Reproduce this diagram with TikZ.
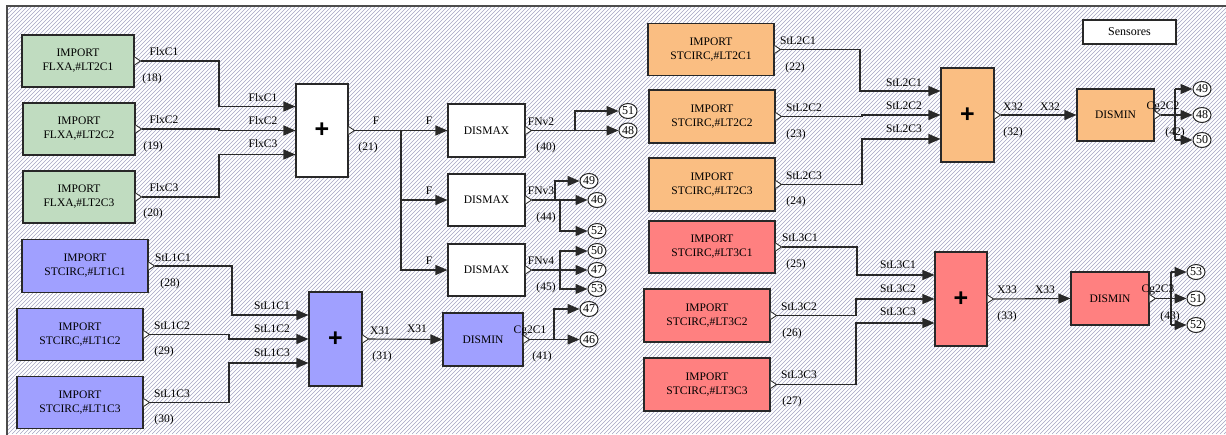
\documentclass[tikz,border=0pt]{standalone}
\usepackage{fontspec}
\setmainfont{Liberation Serif}
\setsansfont{Liberation Sans}
\usetikzlibrary{arrows.meta,shapes.geometric}
\definecolor{gfill}{RGB}{192,220,192}
\definecolor{bfill}{RGB}{160,160,255}
\definecolor{ofill}{RGB}{250,190,130}
\definecolor{rfill}{RGB}{255,128,128}
\definecolor{hatchc}{RGB}{165,165,195}
\definecolor{edge}{RGB}{40,40,40}
\newcommand\mkport[1]{%
  \filldraw[fill=white,draw=edge,line width=0.8pt] ([yshift=4pt]#1.east) -- ([xshift=6pt]#1.east) -- ([yshift=-4pt]#1.east);
  \coordinate (#1p) at ([xshift=6pt]#1.east);}
\newcommand\mkins[1]{%
  \coordinate (#1a) at ([yshift=24pt]#1.west);
  \coordinate (#1b) at (#1.west);
  \coordinate (#1c) at ([yshift=-24pt]#1.west);}
\tikzset{
  box/.style={draw=edge, line width=1.1pt, inner sep=0pt, align=center,
    font=\fontsize{11.5}{14}\selectfont},
  sumbox/.style={box, minimum width=53pt, minimum height=94pt,
    font=\sffamily\bfseries\fontsize{25}{25}\selectfont},
  impbox/.style={box, minimum width=126pt, minimum height=52pt},
  disbox/.style={box, minimum width=78pt, minimum height=53pt},
  wire/.style={draw=edge, line width=1.1pt},
  arr/.style={wire, -{Triangle[length=12pt,width=10pt]}},
  lbl/.style={inner sep=0pt, font=\fontsize{11.5}{13}\selectfont},
  circ/.style={draw=edge, ellipse, line width=1pt, fill=white, minimum width=18pt,
    minimum height=15pt, inner sep=0pt, font=\fontsize{12}{12}\selectfont},
  hatch/.style={draw=hatchc, line width=0.6pt}
}
\begin{document}
\begin{tikzpicture}[x=1pt,y=-1pt]
\fill[white] (0,0) rectangle (1226,434);
\useasboundingbox (0,0) rectangle (1226,434);
\begin{scope}
\clip (7,6) rectangle (1226,434);
\foreach \i in {-440,-436,...,1232} {\draw[hatch] (\i,434) -- (\i+434,0);}
\end{scope}
\draw[draw=black!70,line width=1.3pt] (7,440) -- (7,6) -- (1230,6);

% ---------- boxes ----------
\node[box, fill=gfill, minimum width=112pt, minimum height=52pt] (g1) at (78,61) {IMPORT\\FLXA,\#LT2C1};
\node[box, fill=gfill, minimum width=112pt, minimum height=52pt] (g2) at (79,129) {IMPORT\\FLXA,\#LT2C2};
\node[box, fill=gfill, minimum width=112pt, minimum height=52pt] (g3) at (79,197) {IMPORT\\FLXA,\#LT2C3};
\node[sumbox, fill=white, minimum width=52pt, minimum height=93pt] (s21) at (322,130.5) {+};
\node[disbox, fill=white, minimum width=77pt] (d40) at (486.5,130.5) {DISMAX};
\node[disbox, fill=white, minimum width=77pt, minimum height=52pt] (d44) at (486.5,200) {DISMAX};
\node[disbox, fill=white, minimum width=77pt, minimum height=52pt] (d45) at (486.5,270) {DISMAX};

\node[impbox, fill=bfill, minimum height=53pt] (b1) at (85,266) {IMPORT\\STCIRC,\#LT1C1};
\node[impbox, fill=bfill] (b2) at (80,334.5) {IMPORT\\STCIRC,\#LT1C2};
\node[impbox, fill=bfill] (b3) at (80,402.5) {IMPORT\\STCIRC,\#LT1C3};
\node[sumbox, fill=bfill] (s31) at (335.5,339) {+};
\node[disbox, fill=bfill, minimum width=80pt] (d41) at (483,339.5) {DISMIN};

\node[impbox, fill=ofill] (o1) at (711,49.5) {IMPORT\\STCIRC,\#LT2C1};
\node[impbox, fill=ofill, minimum height=53pt] (o2) at (712,116.5) {IMPORT\\STCIRC,\#LT2C2};
\node[impbox, fill=ofill, minimum height=53pt] (o3) at (712,184.5) {IMPORT\\STCIRC,\#LT2C3};
\node[sumbox, fill=ofill] (s32) at (967.5,115) {+};
\node[disbox, fill=ofill, minimum width=77pt, minimum height=52pt] (d42) at (1115.5,115) {DISMIN};

\node[impbox, fill=rfill] (r1) at (712,247) {IMPORT\\STCIRC,\#LT3C1};
\node[impbox, fill=rfill, minimum height=53pt] (r2) at (707,315.5) {IMPORT\\STCIRC,\#LT3C2};
\node[impbox, fill=rfill, minimum height=53pt] (r3) at (707,384.5) {IMPORT\\STCIRC,\#LT3C3};
\node[sumbox, fill=rfill, minimum width=52pt] (s33) at (961,299) {+};
\node[disbox, fill=rfill] (d43) at (1110,298.5) {DISMIN};

\node[box, fill=white, minimum width=93pt, minimum height=24pt, font=\fontsize{12}{13}\selectfont] (sens) at (1129.5,32) {Sensores};

% ---------- circles ----------
\node[circ] (c51a) at (628,111) {51};
\node[circ] (c48a) at (628,130.5) {48};
\node[circ] (c49a) at (589,181) {49};
\node[circ] (c46a) at (597,200) {46};
\node[circ] (c52a) at (597,231) {52};
\node[circ] (c50a) at (597,251) {50};
\node[circ] (c47a) at (597,270) {47};
\node[circ] (c53a) at (597,289) {53};
\node[circ] (c47b) at (589,309) {47};
\node[circ] (c46b) at (589,339.5) {46};
\node[circ] (c49b) at (1202,89) {49};
\node[circ] (c48b) at (1202,115) {48};
\node[circ] (c50b) at (1202,140) {50};
\node[circ] (c53b) at (1196,272) {53};
\node[circ] (c51b) at (1196,298.5) {51};
\node[circ] (c52b) at (1196,325) {52};

% ---------- ports and inputs ----------
\foreach \n in {g1,g2,g3,s21,d40,d44,d45,b1,b2,b3,s31,d41,o1,o2,o3,s32,d42,r1,r2,r3,s33,d43} {\mkport{\n}}
\foreach \n in {s21,s31,s32,s33} {\mkins{\n}}

% junctions
\coordinate (jF) at (401,130.5);
\coordinate (j40) at (575,130.5);
\coordinate (j44a) at (555,200);
\coordinate (j44b) at (560,200);
\coordinate (j45) at (560,270);
\coordinate (j41) at (554,339.5);
\coordinate (j42t) at (1175,89);
\coordinate (j42b) at (1175,140);
\coordinate (j43t) at (1171,272);
\coordinate (j43b) at (1171,325);

% ---------- connectors ----------
\draw[arr] (g1p) -| (219,106.5) -- (s21a);
\draw[arr] (g2p) -| (219,130.5) -- (s21b);
\draw[arr] (g3p) -| (219,154.5) -- (s21c);
\draw[arr] (s21p) -- (d40.west);
\draw[arr] (jF) |- (d44.west);
\draw[arr] (jF) |- (d45.west);
\draw[arr] (d40p) -- (c48a.west);
\draw[arr] (j40) |- (c51a.west);
\draw[arr] (d44p) -- (c46a.west);
\draw[arr] (j44a) |- (c49a.west);
\draw[arr] (j44b) |- (c52a.west);
\draw[arr] (d45p) -- (c47a.west);
\draw[arr] (j45) |- (c50a.west);
\draw[arr] (j45) |- (c53a.west);

\draw[arr] (b1p) -| (232,315) -- (s31a);
\draw[arr] (b2p) -| (229,339) -- (s31b);
\draw[arr] (b3p) -| (229,363) -- (s31c);
\draw[arr] (s31p) -- (d41.west);
\draw[arr] (d41p) -- (c46b.west);
\draw[arr] (j41) |- (c47b.west);

\draw[arr] (o1p) -| (860,91) -- (s32a);
\draw[arr] (o2p) -| (862,115) -- (s32b);
\draw[arr] (o3p) -| (862,139) -- (s32c);
\draw[arr] (s32p) -- (d42.west);
\draw[wire] (j42t) -- (j42b);
\draw[arr] (d42p) -- (c48b.west);
\draw[arr] (j42t) -- (c49b.west);
\draw[arr] (j42b) -- (c50b.west);

\draw[arr] (r1p) -| (857,275) -- (s33a);
\draw[arr] (r2p) -| (856,299) -- (s33b);
\draw[arr] (r3p) -| (856,323) -- (s33c);
\draw[arr] (s33p) -- (d43.west);
\draw[wire] (j43t) -- (j43b);
\draw[arr] (d43p) -- (c51b.west);
\draw[arr] (j43t) -- (c53b.west);
\draw[arr] (j43b) -- (c52b.west);

% ---------- labels ----------
\node[lbl] (l1) at (164,52) {FlxC1};
\node[lbl] (l2) at (152,79) {(18)};
\node[lbl] (l3) at (164,120) {FlxC2};
\node[lbl] (l4) at (153,147) {(19)};
\node[lbl] (l5) at (164,188) {FlxC3};
\node[lbl] (l6) at (153,214) {(20)};
\node[lbl] (l7) at (263,98) {FlxC1};
\node[lbl] (l8) at (263,121) {FlxC2};
\node[lbl] (l9) at (263,144) {FlxC3};
\node[lbl] (l10) at (376,121) {F};
\node[lbl] (l11) at (368,148) {(21)};
\node[lbl] (l12) at (429,121) {F};
\node[lbl] (l13) at (429,191) {F};
\node[lbl] (l14) at (429,261) {F};
\node[lbl] (l15) at (541,122) {FNv2};
\node[lbl] (l16) at (546,148) {(40)};
\node[lbl] (l17) at (541,191) {FNv3};
\node[lbl] (l18) at (546,218) {(44)};
\node[lbl] (l19) at (541,261) {FNv4};
\node[lbl] (l20) at (546,288) {(45)};

\node[lbl] (l21) at (173,258) {StL1C1};
\node[lbl] (l22) at (170,284) {(28)};
\node[lbl] (l23) at (172,326) {StL1C2};
\node[lbl] (l24) at (164,352) {(29)};
\node[lbl] (l25) at (172,394) {StL1C3};
\node[lbl] (l26) at (164,420) {(30)};
\node[lbl] (l27) at (272,306) {StL1C1};
\node[lbl] (l28) at (272,329) {StL1C2};
\node[lbl] (l29) at (272,353) {StL1C3};
\node[lbl] (l30) at (380,331) {X31};
\node[lbl] (l31) at (382,357) {(31)};
\node[lbl] (l32) at (417,329) {X31};
\node[lbl] (l33) at (530,331) {Cg2C1};
\node[lbl] (l34) at (542,357) {(41)};

\node[lbl] (l35) at (798,41) {StL2C1};
\node[lbl] (l36) at (795,68) {(22)};
\node[lbl] (l37) at (804,108) {StL2C2};
\node[lbl] (l38) at (796,135) {(23)};
\node[lbl] (l39) at (804,176) {StL2C3};
\node[lbl] (l40) at (796,202) {(24)};
\node[lbl] (l41) at (904,83) {StL2C1};
\node[lbl] (l42) at (904,106) {StL2C2};
\node[lbl] (l43) at (904,129) {StL2C3};
\node[lbl] (l44) at (1013,107) {X32};
\node[lbl] (l45) at (1013,133) {(32)};
\node[lbl] (l46) at (1050,107) {X32};
\node[lbl] (l47) at (1163,107) {Cg2C2};
\node[lbl] (l48) at (1175,133) {(42)};

\node[lbl] (l49) at (800,238) {StL3C1};
\node[lbl] (l50) at (796,265) {(25)};
\node[lbl] (l51) at (799,307) {StL3C2};
\node[lbl] (l52) at (792,334) {(26)};
\node[lbl] (l53) at (799,375) {StL3C3};
\node[lbl] (l54) at (792,402) {(27)};
\node[lbl] (l55) at (898,265) {StL3C1};
\node[lbl] (l56) at (898,289) {StL3C2};
\node[lbl] (l57) at (898,312) {StL3C3};
\node[lbl] (l58) at (1007,290) {X33};
\node[lbl] (l59) at (1007,317) {(33)};
\node[lbl] (l60) at (1045,290) {X33};
\node[lbl] (l61) at (1158,290) {Cg2C3};
\node[lbl] (l62) at (1170,317) {(43)};
\end{tikzpicture}
\end{document}
